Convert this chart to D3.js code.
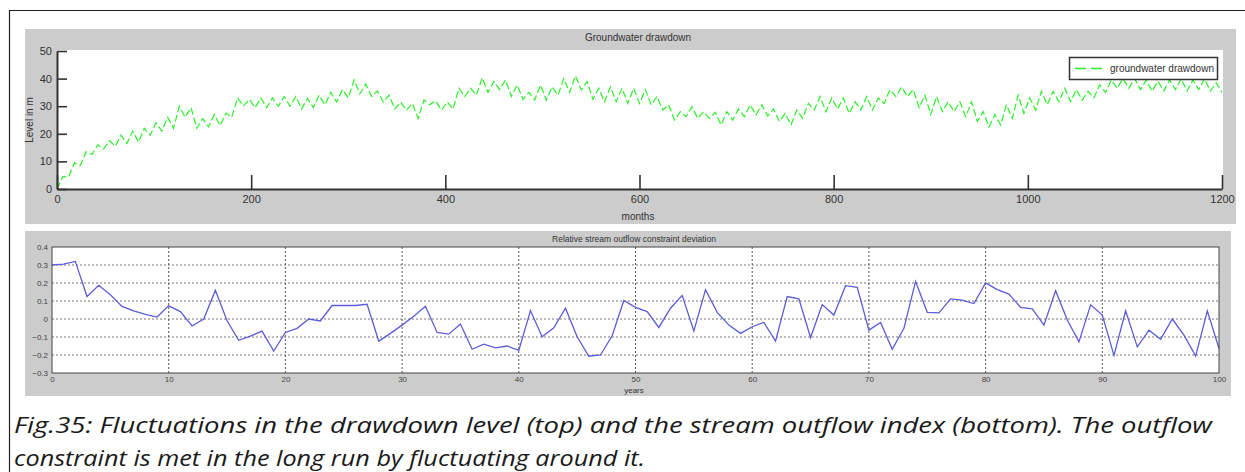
<!DOCTYPE html>
<html>
<head>
<meta charset="utf-8">
<script src="https://cdn.jsdelivr.net/npm/d3@7/dist/d3.min.js"></script>
<style>
  html, body { margin: 0; padding: 0; background: #ffffff; }
  svg { display: block; }
</style>
</head>
<body>
<svg id="chart" width="1245" height="472"></svg>
<script>
// ---------------- DATA ----------------
// Top panel: groundwater drawdown (m), one trough and one peak per year (months 0..1200)
const yearTrough = [
  0, 4.5, 8.5, 12.5, 14.5, 15.5, 16.5, 17, 19.5, 21,
  22, 26, 22, 22.5, 23, 26, 30, 29.5, 29.5, 30,
  30, 29, 29.5, 30.5, 31.5, 33, 34.5, 33.5, 31.5, 29,
  28.5, 25.6, 30.5, 28.6, 29, 33.5, 34, 35, 36, 33.5,
  32.5, 32.2, 32.2, 34, 35, 35.9, 32.5, 31.6, 31.6, 31,
  31, 30.5, 28.6, 25, 26.2, 25.6, 25.6, 23.2, 25, 26.2,
  26.8, 26.5, 24.5, 23.2, 25.6, 28.6, 28, 29, 27.4, 28.6,
  28.6, 31, 33.5, 33.5, 29.5, 27, 28, 28, 26.2, 24.5,
  22.5, 23.2, 25.6, 27.4, 28.6, 30.5, 31.6, 31.6, 32.2, 33,
  35, 36.5, 36.5, 36, 35.4, 35.5, 36, 35.5, 36, 35.5
];
const yearPeak = [
  4.5, 9.5, 13.5, 16, 17.5, 19.5, 21, 22, 24, 26,
  30, 29.5, 25.5, 27, 27.5, 33, 32.5, 33, 33, 33.5,
  33.5, 32.8, 34, 35, 36, 39.5, 38, 35.5, 34, 31.5,
  31, 32.2, 32, 31.5, 36.5, 36.5, 40.3, 39, 39.5, 37.7,
  35, 37.7, 37, 40, 41, 38.9, 36.5, 37, 36.5, 36.5,
  36, 33.5, 30.5, 28, 29.8, 28, 27.8, 28, 29, 30.5,
  30.5, 29, 27.4, 28.6, 31, 33.5, 33, 33, 31.6, 33.5,
  33, 36, 37, 36, 34, 33.5, 31.6, 31.6, 31.6, 28,
  27, 30.5, 34, 33, 35.4, 35.4, 36.5, 36, 35.4, 37.7,
  39.5, 40, 40, 39.5, 39, 39.5, 40, 39.5, 40, 38.5
];
const finalDrawdown = 35;           // value at month 1200
const monthTicks = [0, 200, 400, 600, 800, 1000, 1200];
const levelTicks = [0, 10, 20, 30, 40, 50];

// Bottom panel: relative stream outflow constraint deviation, years 0..100
const years = d3.range(0, 101);
const deviation = [
  0.30, 0.305, 0.32, 0.125, 0.187, 0.135, 0.07, 0.045, 0.026, 0.011,
  0.073, 0.041, -0.039, 0.0, 0.159, -0.01, -0.118, -0.095, -0.067, -0.178,
  -0.075, -0.052, 0.0, -0.011, 0.075, 0.075, 0.075, 0.082, -0.123, -0.08,
  -0.034, 0.015, 0.071, -0.075, -0.084, -0.028, -0.168, -0.14, -0.16, -0.15,
  -0.174, 0.047, -0.099, -0.049, 0.06, -0.099, -0.207, -0.2, -0.093, 0.103,
  0.065, 0.041, -0.047, 0.06, 0.131, -0.067, 0.163, 0.037, -0.034, -0.08,
  -0.043, -0.019, -0.123, 0.125, 0.112, -0.103, 0.08, 0.022, 0.185, 0.176,
  -0.062, -0.019, -0.168, -0.052, 0.209, 0.037, 0.034, 0.112, 0.105, 0.086,
  0.2, 0.163, 0.138, 0.065, 0.056, -0.034, 0.157, -0.006, -0.127, 0.079,
  0.022, -0.202, 0.045, -0.155, -0.062, -0.112, 0.0, -0.09, -0.206, 0.045,
  -0.164
];
const yearTicks = d3.range(0, 101, 10);
const devTicks = [-0.3, -0.2, -0.1, 0, 0.1, 0.2, 0.3, 0.4];

// Texts
const topTitle = "Groundwater drawdown";
const topXLabel = "months";
const topYLabel = "Level in m";
const legendLabel = "groundwater drawdown";
const bottomTitle = "Relative stream outflow constraint deviation";
const bottomXLabel = "years";
const captionLines = [
  "Fig.35: Fluctuations in the drawdown level (top) and the stream outflow index (bottom). The outflow",
  "constraint is met in the long run by fluctuating around it."
];

// ---------------- DRAW ----------------
const svg = d3.select("#chart");
const font = "Liberation Sans, Arial, sans-serif";

// outer frame
svg.append("path")
  .attr("d", "M9.5,472 L9.5,10.5 L1245,10.5")
  .attr("fill", "none").attr("stroke", "#222").attr("stroke-width", 1.2);

// ===== TOP PANEL =====
svg.append("rect").attr("x", 25).attr("y", 29).attr("width", 1211).attr("height", 195).attr("fill", "#cccccc");
const xT = d3.scaleLinear().domain([0, 1200]).range([57, 1222]);
const yT = d3.scaleLinear().domain([0, 50]).range([189, 51]);
svg.append("rect").attr("x", 57).attr("y", 50).attr("width", 1166).attr("height", 139).attr("fill", "#ffffff");

// series points
const topPts = [];
yearTrough.forEach((t, i) => {
  topPts.push([i * 12, t]);
  topPts.push([i * 12 + 6, yearPeak[i]]);
});
topPts.push([1200, finalDrawdown]);

svg.append("path")
  .datum(topPts)
  .attr("fill", "none")
  .attr("stroke", "#2af02a")
  .attr("stroke-width", 1.2)
  .attr("stroke-dasharray", "7,3")
  .attr("d", d3.line().x(d => xT(d[0])).y(d => yT(d[1])));

const axT = svg.append("g").attr("transform", "translate(0,189)")
  .call(d3.axisBottom(xT).tickValues(monthTicks).tickSize(-14).tickSizeOuter(0).tickPadding(6).tickFormat(d3.format("d")));
const ayT = svg.append("g").attr("transform", "translate(57,0)")
  .call(d3.axisLeft(yT).tickValues(levelTicks).tickSize(-10).tickSizeOuter(0).tickPadding(5).tickFormat(d3.format("d")));
[axT, ayT].forEach(g => {
  g.select(".domain").attr("stroke", "#333").attr("stroke-width", 2);
  g.selectAll(".tick line").attr("stroke", "#333").attr("stroke-width", 1.6);
  g.selectAll(".tick text").attr("fill", "#333").style("font-family", font).style("font-size", "11px");
});

svg.append("text").attr("x", 638).attr("y", 41).attr("text-anchor", "middle")
  .style("font-family", font).style("font-size", "10px").attr("fill", "#333").text(topTitle);
svg.append("text").attr("x", 638).attr("y", 220).attr("text-anchor", "middle")
  .style("font-family", font).style("font-size", "10px").attr("fill", "#333").text(topXLabel);
svg.append("text").attr("transform", "translate(33,120) rotate(-90)").attr("text-anchor", "middle")
  .style("font-family", font).style("font-size", "10px").attr("fill", "#333").text(topYLabel);

// legend
const lg = svg.append("g");
lg.append("rect").attr("x", 1069.5).attr("y", 57.5).attr("width", 148).attr("height", 22)
  .attr("fill", "#fff").attr("stroke", "#333").attr("stroke-width", 1.5);
lg.append("line").attr("x1", 1075).attr("x2", 1107).attr("y1", 68.5).attr("y2", 68.5)
  .attr("stroke", "#2af02a").attr("stroke-width", 1.5).attr("stroke-dasharray", "11,5");
lg.append("text").attr("x", 1110).attr("y", 72).style("font-family", font).style("font-size", "10px")
  .attr("fill", "#333").text(legendLabel);

// ===== BOTTOM PANEL =====
svg.append("rect").attr("x", 25).attr("y", 231).attr("width", 1206).attr("height", 165).attr("fill", "#cccccc");
const xB = d3.scaleLinear().domain([0, 100]).range([52, 1219]);
const yB = d3.scaleLinear().domain([-0.3, 0.4]).range([373, 247]);
svg.append("rect").attr("x", 52).attr("y", 247).attr("width", 1167).attr("height", 126).attr("fill", "#ffffff");

// grid
const grid = svg.append("g");
grid.selectAll("line.v").data(yearTicks.slice(1, -1)).enter().append("line")
  .attr("x1", d => xB(d)).attr("x2", d => xB(d)).attr("y1", 247).attr("y2", 373)
  .attr("stroke", "#555").attr("stroke-width", 1).attr("stroke-dasharray", "2,2");
grid.selectAll("line.h").data(devTicks.slice(1, -1)).enter().append("line")
  .attr("x1", 52).attr("x2", 1219).attr("y1", d => yB(d)).attr("y2", d => yB(d))
  .attr("stroke", "#777").attr("stroke-width", 1).attr("stroke-dasharray", "2,2");

svg.append("path")
  .datum(years.map((y, i) => [y, deviation[i]]))
  .attr("fill", "none").attr("stroke", "#5c5cd8").attr("stroke-width", 1.3)
  .attr("d", d3.line().x(d => xB(d[0])).y(d => yB(d[1])));

svg.append("rect").attr("x", 52).attr("y", 247).attr("width", 1167).attr("height", 126)
  .attr("fill", "none").attr("stroke", "#444").attr("stroke-width", 1);

const axB = svg.append("g").attr("transform", "translate(0,373)")
  .call(d3.axisBottom(xB).tickValues(yearTicks).tickSize(0).tickPadding(3).tickFormat(d3.format("d")));
const ayB = svg.append("g").attr("transform", "translate(52,0)")
  .call(d3.axisLeft(yB).tickValues(devTicks).tickSize(0).tickPadding(4).tickFormat(d => d === 0 ? "0" : d3.format(".1f")(d)));
[axB, ayB].forEach(g => {
  g.select(".domain").remove();
  g.selectAll(".tick text").attr("fill", "#444").style("font-family", font).style("font-size", "8px");
});

svg.append("text").attr("x", 634).attr("y", 242).attr("text-anchor", "middle")
  .style("font-family", font).style("font-size", "8.5px").attr("fill", "#333").text(bottomTitle);
svg.append("text").attr("x", 634).attr("y", 393).attr("text-anchor", "middle")
  .style("font-family", font).style("font-size", "8px").attr("fill", "#333").text(bottomXLabel);

// ===== CAPTION =====
const capLens = [1198, 631];
captionLines.forEach((t, i) => {
  svg.append("text").attr("x", 14).attr("y", 433 + i * 33)
    .style("font-family", "'Open Sans', 'Noto Sans', sans-serif").style("font-style", "italic")
    .style("font-size", "22px").attr("fill", "#1a1a1a")
    .attr("textLength", capLens[i]).attr("lengthAdjust", "spacingAndGlyphs")
    .text(t);
});
</script>
</body>
</html>
